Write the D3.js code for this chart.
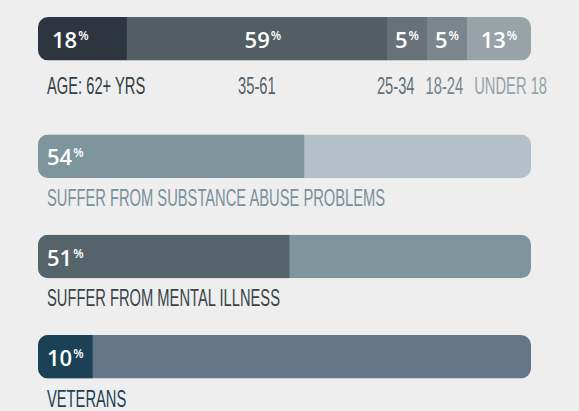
<!DOCTYPE html>
<html>
<head>
<meta charset="utf-8">
<script src="https://cdn.jsdelivr.net/npm/d3@7"></script>
<style>
  html, body { margin: 0; padding: 0; background: #eeeeee; }
  .val { font-family: "Open Sans", sans-serif; font-weight: 600; font-size: 22px; fill: #ffffff; }
  .cap { font-family: "Liberation Sans", Arial, sans-serif; font-size: 23px; }
</style>
</head>
<body>
<svg id="chart" width="579" height="411"></svg>
<script>
// age breakdown (top stacked bar)
const ageGroups = ["AGE: 62+ YRS", "35-61", "25-34", "18-24", "UNDER 18"];
const ageShares = [18, 59, 5, 5, 13];
// single stat bars
const statLabels = ["SUFFER FROM SUBSTANCE ABUSE PROBLEMS", "SUFFER FROM MENTAL ILLNESS", "VETERANS"];
const statValues = [54, 51, 10];

const ageFill = ["#2e3540", "#525e64", "#667178", "#7b868c", "#98a3a8"];
const ageText = ["#353e45", "#56626a", "#637078", "#78848b", "#96a2a8"];
const statFill = ["#7e959e", "#55636a", "#1a4156"];
const statTrack = ["#b4c1c8", "#7e959e", "#657588"];
const statText = ["#7a919a", "#3a444a", "#1b4157"];

// the caption face is squeezed horizontally to get a condensed look
const squeeze = 0.64, barH = 43.5, radius = 10;

const svg = d3.select("#chart");
const x = d3.scaleLinear().domain([0, 100]).range([38, 531]);
const y = d3.scaleLinear().domain([0, 2]).range([134.5, 335]);

function valueLabel(g, v) {
  const t = g.append("text").attr("class", "val");
  t.append("tspan").text(v);
  t.append("tspan").attr("font-size", 12).attr("dx", 1).attr("dy", -8).text("%");
  return t;
}
function capLabel(g, s, color) {
  return g.append("text").attr("class", "cap").attr("fill", color).text(s);
}
function place(t, px, py, anchor) {
  t.attr("text-anchor", anchor).attr("transform", `translate(${px},${py}) scale(${squeeze},1)`);
}
function clipFor(id, yy) {
  svg.append("clipPath").attr("id", id)
    .append("rect").attr("x", x(0)).attr("y", yy)
    .attr("width", x(100) - x(0)).attr("height", barH).attr("rx", radius);
}

// ---- top stacked bar ----
const ageY = 17;
clipFor("clip-age", ageY);
const ageG = svg.append("g");
const segG = ageG.append("g").attr("clip-path", "url(#clip-age)");
const valG = ageG.append("g");

const vals = ageShares.map(v => valueLabel(valG, v));
const minW = vals.map(t => t.node().getBBox().width + 16);
let widths = ageShares.map(v => x(v) - x(0));
let extra = 0;
widths = widths.map((w, i) => { if (w < minW[i]) { extra += minW[i] - w; return minW[i]; } return w; });
const big = d3.maxIndex(widths);
widths[big] -= extra;
const starts = widths.map((w, i) => x(0) + d3.sum(widths.slice(0, i)));

segG.selectAll("rect").data(ageShares).join("rect")
  .attr("x", (d, i) => starts[i])
  .attr("y", ageY)
  .attr("width", (d, i) => widths[i] + 0.5)
  .attr("height", barH)
  .attr("fill", (d, i) => ageFill[i]);

vals.forEach((t, i) => {
  if (i === 0) t.attr("x", starts[i] + 14).attr("text-anchor", "start");
  else t.attr("x", starts[i] + widths[i] / 2 + (i === 1 ? 6 : 0)).attr("text-anchor", "middle");
  t.attr("y", ageY + barH / 2 + 9);
});

// category labels, packed from the right so they don't collide
const caps = ageGroups.map((s, i) => capLabel(ageG, s, ageText[i]));
const capW = caps.map(t => t.node().getComputedTextLength() * squeeze);
const capY = ageY + barH + 33;
const n = caps.length;
let ends = [];
ends[n - 1] = x(100) + 16;
for (let i = n - 2; i >= 1; i--) {
  const centre = starts[i] + widths[i] / 2;
  ends[i] = Math.min(centre + capW[i] / 2, ends[i + 1] - capW[i + 1] - 11);
}
caps.forEach((t, i) => {
  if (i === 0) place(t, x(0) + 9, capY, "start");
  else place(t, ends[i], capY, "end");
});

// ---- single stat bars ----
statValues.forEach((v, i) => {
  const by = y(i);
  clipFor("clip-" + i, by);
  const g = svg.append("g");
  const bars = g.append("g").attr("clip-path", `url(#clip-${i})`);
  const t = valueLabel(g, v);
  const w = Math.max(x(v) - x(0), t.node().getBBox().width + 18);
  bars.append("rect").attr("x", x(0)).attr("y", by)
    .attr("width", x(100) - x(0)).attr("height", barH).attr("fill", statTrack[i]);
  bars.append("rect").attr("x", x(0)).attr("y", by)
    .attr("width", w).attr("height", barH).attr("fill", statFill[i]);
  t.attr("x", x(0) + 9).attr("y", by + barH / 2 + 9);
  const c = capLabel(g, statLabels[i], statText[i]);
  place(c, x(0) + 9, by + barH + 28, "start");
});
</script>
</body>
</html>
